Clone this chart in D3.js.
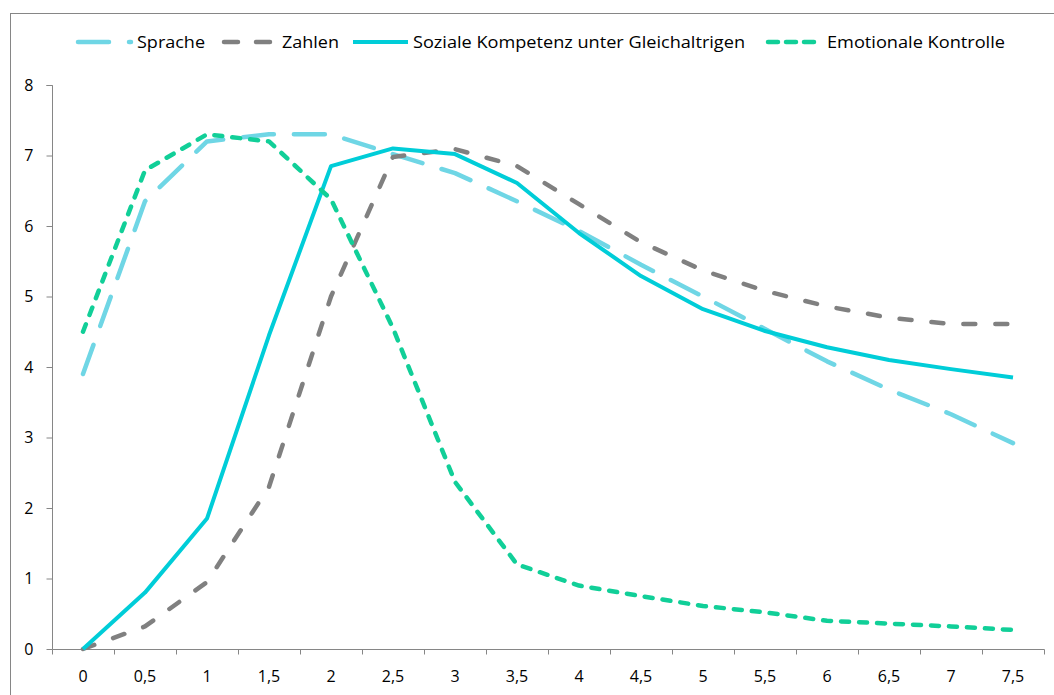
<!DOCTYPE html>
<html>
<head>
<meta charset="utf-8">
<script src="https://cdn.jsdelivr.net/npm/d3@7"></script>
<style>
  html, body { margin: 0; padding: 0; background: #fff; }
  svg { display: block; font-family: "Open Sans", "Noto Sans", sans-serif; }
</style>
</head>
<body>
<svg id="chart" width="1054" height="695"></svg>
<script>
// ---- data ----
const categories = ["0","0,5","1","1,5","2","2,5","3","3,5","4","4,5","5","5,5","6","6,5","7","7,5"];
const yTicks = [0,1,2,3,4,5,6,7,8];
const seriesNames = ["Sprache","Zahlen","Soziale Kompetenz unter Gleichaltrigen","Emotionale Kontrolle"];
const sprache   = [3.9, 6.35, 7.2, 7.3, 7.3, 7.02, 6.75, 6.35, 5.93, 5.45, 5.0, 4.54, 4.08, 3.68, 3.33, 2.92];
const zahlen    = [0, 0.32, 0.95, 2.3, 5.0, 6.98, 7.09, 6.85, 6.31, 5.77, 5.37, 5.08, 4.86, 4.7, 4.61, 4.61];
const sozial    = [0, 0.8, 1.85, 4.45, 6.85, 7.1, 7.02, 6.61, 5.9, 5.29, 4.82, 4.51, 4.28, 4.1, 3.97, 3.85];
const emotional = [4.5, 6.79, 7.3, 7.2, 6.38, 4.55, 2.37, 1.2, 0.9, 0.75, 0.61, 0.52, 0.4, 0.36, 0.32, 0.27];

// ---- styles ----
const styles = [
  {color: "#6fd6e5", width: 4.5, dash: "31,20", cap: "round"},
  {color: "#808080", width: 4.5, dash: "12,20", cap: "round"},
  {color: "#00cdd8", width: 4,   dash: null,    cap: "butt"},
  {color: "#11cf98", width: 4.5, dash: "8,10",  cap: "round"}
];
const allSeries = [sprache, zahlen, sozial, emotional];

const svg = d3.select("#chart");
const axisColor = "#868686";
const fontSize = 16;

// outer frame
svg.append("rect")
  .attr("x", 10.5).attr("y", 13.5)
  .attr("width", 1100).attr("height", 700)
  .attr("fill", "none").attr("stroke", axisColor).attr("stroke-width", 1);

// scales
const x = d3.scaleBand().domain(categories).range([52, 1044]).paddingInner(0).paddingOuter(0);
const y = d3.scaleLinear().domain([0, 8]).range([649, 85]);
const cx = c => x(c) + x.bandwidth() / 2;

// y axis
const yAxis = svg.append("g").attr("transform", "translate(52.5,0)")
  .call(d3.axisLeft(y).tickValues(yTicks).tickFormat(d3.format("d")).tickSize(6).tickPadding(13));
yAxis.select(".domain").attr("stroke", axisColor).attr("d", `M-6,${y(8)+0.5}H0V${y(0)+0.5}`);
yAxis.selectAll(".tick line").attr("stroke", axisColor);
yAxis.selectAll(".tick").attr("transform", d => `translate(0,${y(d)+0.5})`);
yAxis.selectAll("text").attr("fill", "#000").style("font-size", fontSize + "px").style("font-family", "Open Sans, sans-serif");

// x axis (labels at centres, ticks at band boundaries)
const xAxis = svg.append("g").attr("transform", "translate(0,649.5)")
  .call(d3.axisBottom(x).tickSize(0).tickPadding(21));
xAxis.select(".domain").attr("stroke", axisColor).attr("d", `M52.5,0H${1044.5}`);
xAxis.selectAll("text").attr("fill", "#000").style("font-size", fontSize + "px").style("font-family", "Open Sans, sans-serif");
const edges = categories.map(c => x(c)).concat([x(categories[categories.length-1]) + x.bandwidth()]);
xAxis.selectAll("line.edge").data(edges).enter().append("line")
  .attr("class", "edge")
  .attr("x1", d => Math.round(d) + 0.5).attr("x2", d => Math.round(d) + 0.5)
  .attr("y1", 0).attr("y2", 5)
  .attr("stroke", axisColor);

// lines
const line = d3.line().x((d, i) => cx(categories[i])).y(d => y(d));
const plot = svg.append("g");
allSeries.forEach((s, k) => {
  const st = styles[k];
  const p = plot.append("path").datum(s)
    .attr("d", line)
    .attr("fill", "none")
    .attr("stroke", st.color)
    .attr("stroke-width", st.width)
    .attr("stroke-linejoin", "round")
    .attr("stroke-linecap", st.cap);
  if (st.dash) p.attr("stroke-dasharray", st.dash);
});

// legend
const legendY = 42;
const legendItems = [
  {sx: 78, ex: 131, tx: 137, tw: 68},
  {sx: 224, ex: 276, tx: 282, tw: 57},
  {sx: 353, ex: 408, tx: 413, tw: 332},
  {sx: 768, ex: 818, tx: 827, tw: 178}
];
const legend = svg.append("g");
legendItems.forEach((it, k) => {
  const st = styles[k];
  const l = legend.append("line")
    .attr("x1", it.sx).attr("x2", it.ex)
    .attr("y1", legendY).attr("y2", legendY)
    .attr("stroke", st.color).attr("stroke-width", st.width)
    .attr("stroke-linecap", st.cap);
  if (st.dash) l.attr("stroke-dasharray", k === 3 ? "10,8" : (k === 1 ? "14,18" : st.dash));
  legend.append("text")
    .attr("x", it.tx).attr("y", legendY).attr("dy", "0.35em")
    .attr("textLength", it.tw).attr("lengthAdjust", "spacingAndGlyphs")
    .style("font-size", fontSize + "px")
    .attr("fill", "#000")
    .text(seriesNames[k]);
});
</script>
</body>
</html>
